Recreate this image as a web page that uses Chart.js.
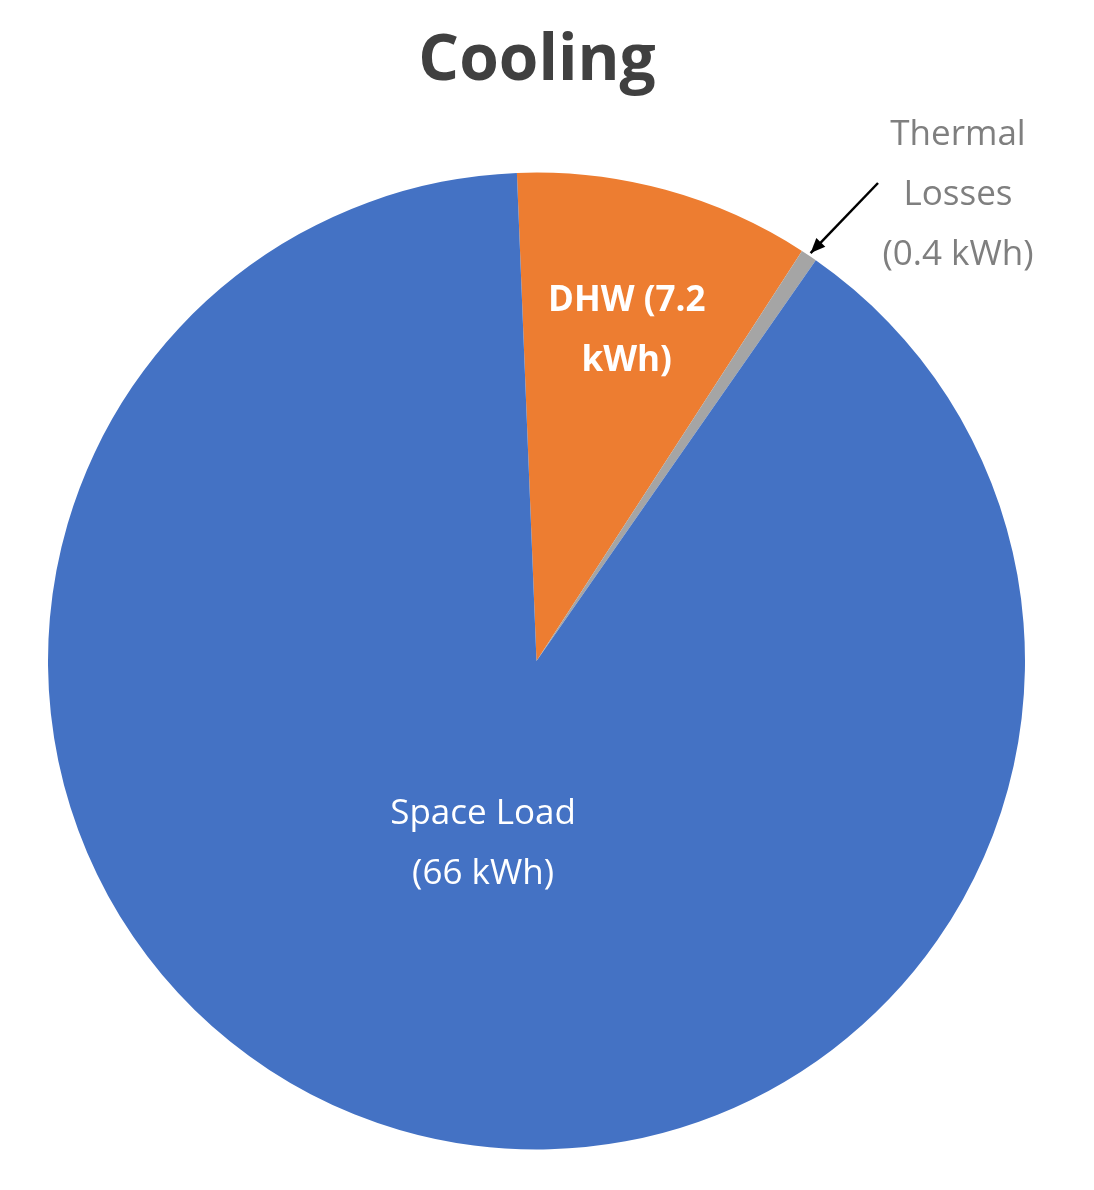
<!DOCTYPE html>
<html><head><meta charset="utf-8">
<script src="https://cdn.jsdelivr.net/npm/chart.js@4"></script>
<style>html,body{margin:0;padding:0;background:#fff}#w{width:1094px;height:1190px}</style>
</head><body><div id="w"><canvas id="c"></canvas></div>
<script>
const categories = ["DHW", "Thermal Losses", "Space Load"];
const values = [7.2, 0.4, 66];
const labelLines = [["DHW (7.2", "kWh)"], ["Thermal", "Losses", "(0.4 kWh)"], ["Space Load", "(66 kWh)"]];
const colors = ["#ED7D31", "#A5A5A5", "#4472C4"];

const labelPlugin = {
  id: 'lbl',
  afterDraw(chart) {
    const ctx = chart.ctx;
    const arcs = chart.getDatasetMeta(0).data;
    const cx = arcs[0].x, cy = arcs[0].y, R = arcs[0].outerRadius;
    ctx.save();
    ctx.textAlign = 'center'; ctx.textBaseline = 'middle';
    // title
    ctx.fillStyle = '#404040';
    ctx.font = 'bold 64px "Open Sans", sans-serif';
    ctx.fillText('Cooling', 537, 62);
    // DHW
    ctx.fillStyle = '#fff';
    ctx.font = 'bold 35px "Open Sans", sans-serif';
    const a0 = arcs[0];
    let m = (a0.startAngle + a0.endAngle) / 2;
    let px = cx + Math.cos(m) * R * 0.7, py = cy + Math.sin(m) * R * 0.7;
    labelLines[0].forEach((t, i) => ctx.fillText(t, px, py - 30 + i * 60));
    // Space
    ctx.font = '35px "Open Sans", sans-serif';
    const a2 = arcs[2];
    m = (a2.startAngle + a2.endAngle) / 2;
    px = cx + Math.cos(m) * R * 0.39; py = cy + Math.sin(m) * R * 0.39;
    labelLines[2].forEach((t, i) => ctx.fillText(t, px, py - 30 + i * 60));
    // Thermal
    ctx.fillStyle = '#7F7F7F';
    labelLines[1].forEach((t, i) => ctx.fillText(t, 958, 135 + i * 60));
    // arrow
    const a1 = arcs[1];
    m = (a1.startAngle + a1.endAngle) / 2;
    const tx = cx + Math.cos(m) * (R + 3), ty = cy + Math.sin(m) * (R + 3);
    const sx = 878, sy = 183;
    ctx.strokeStyle = '#000'; ctx.lineWidth = 2.5;
    ctx.beginPath(); ctx.moveTo(sx, sy); ctx.lineTo(tx, ty); ctx.stroke();
    const ang = Math.atan2(ty - sy, tx - sx);
    ctx.fillStyle = '#000';
    ctx.beginPath(); ctx.moveTo(tx, ty);
    ctx.lineTo(tx - 16 * Math.cos(ang - 0.4), ty - 16 * Math.sin(ang - 0.4));
    ctx.lineTo(tx - 16 * Math.cos(ang + 0.4), ty - 16 * Math.sin(ang + 0.4));
    ctx.closePath(); ctx.fill();
    ctx.restore();
  }
};

new Chart(document.getElementById('c'), {
  type: 'pie',
  data: { labels: categories, datasets: [{ data: values, backgroundColor: colors, borderWidth: 0 }] },
  options: {
    responsive: true, maintainAspectRatio: false, animation: false,
    rotation: -2.3,
    layout: { padding: { top: 172, bottom: 40, left: 48, right: 69 } },
    plugins: { legend: { display: false }, tooltip: { enabled: false }, title: { display: false } }
  },
  plugins: [labelPlugin]
});
</script></body></html>
